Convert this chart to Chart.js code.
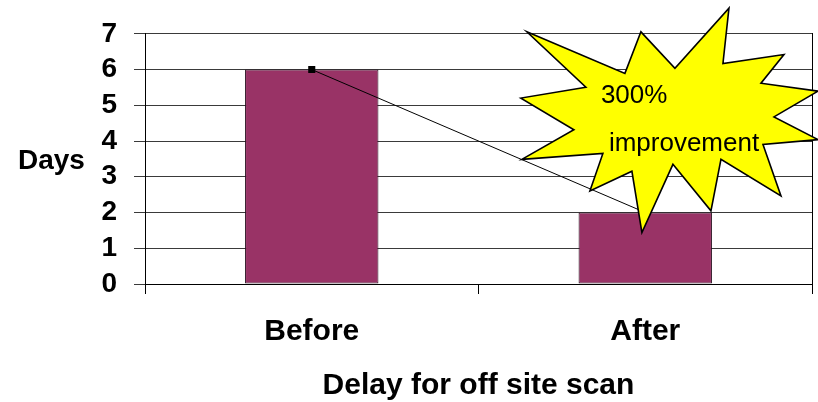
<!DOCTYPE html>
<html>
<head>
<meta charset="utf-8">
<script src="https://cdn.jsdelivr.net/npm/chart.js@4.4.1/dist/chart.umd.min.js"></script>
<style>
  html, body { margin: 0; padding: 0; background: #fff; }
  #wrap { width: 818px; height: 402px; position: relative; }
</style>
</head>
<body>
<div id="wrap"><canvas id="delayChart"></canvas></div>
<script>
// Delay for off site scan, before vs after
const categories = ['Before', 'After'];
const delayDays = [6, 2];
const yTicks = [0, 1, 2, 3, 4, 5, 6, 7];

// Burst callout outline, in chart units (x = category index, y = days)
const burstX = [0.645, 0.939, 0.987, 1.089, 1.251, 1.233, 1.416, 1.347, 1.518, 1.386, 1.518, 1.353,
                1.407, 1.227, 1.197, 1.083, 0.990, 0.960, 0.834, 0.873, 0.630, 0.786, 0.627, 0.822];
const burstY = [7.055, 5.893, 7.055, 6.032, 7.719, 6.170, 6.419, 5.617, 5.395, 4.676, 4.040, 3.901,
                2.462, 3.486, 2.047, 3.348, 1.439, 3.154, 2.601, 3.652, 3.486, 4.316, 5.202, 5.506];
const burstText = [
    { text: '300%', x: 0.867, y: 5.063 },
    { text: 'improvement', x: 0.891, y: 3.735 }
];

const FONT = "'Liberation Sans', Arial, sans-serif";

// Extra drawing: the horizontal "Days" label and the burst callout
const extrasPlugin = {
    id: 'extras',
    afterDraw(chart) {
        const { ctx, chartArea, scales } = chart;
        ctx.save();

        ctx.fillStyle = '#000';
        ctx.font = `bold 28px ${FONT}`;
        ctx.textAlign = 'left';
        ctx.textBaseline = 'alphabetic';
        ctx.fillText('Days', 18, (chartArea.top + chartArea.bottom) / 2 + 10);

        ctx.beginPath();
        burstX.forEach((v, i) => {
            const px = scales.x.getPixelForValue(v);
            const py = scales.y.getPixelForValue(burstY[i]);
            if (i === 0) ctx.moveTo(px, py); else ctx.lineTo(px, py);
        });
        ctx.closePath();
        ctx.fillStyle = '#ffff00';
        ctx.fill();
        ctx.lineWidth = 1.6;
        ctx.lineJoin = 'miter';
        ctx.strokeStyle = '#000';
        ctx.stroke();

        ctx.fillStyle = '#000';
        ctx.font = `26px ${FONT}`;
        burstText.forEach(t => {
            ctx.fillText(t.text, scales.x.getPixelForValue(t.x), scales.y.getPixelForValue(t.y));
        });

        ctx.restore();
    }
};

new Chart(document.getElementById('delayChart'), {
    type: 'bar',
    data: {
        labels: categories,
        datasets: [
            {
                type: 'line',
                data: delayDays,
                borderColor: '#000',
                borderWidth: 1,
                pointStyle: 'rect',
                pointRadius: 5,
                pointBackgroundColor: '#000',
                pointBorderColor: '#000',
                pointBorderWidth: 0,
                tension: 0,
                order: 0
            },
            {
                data: delayDays,
                backgroundColor: '#993366',
                borderColor: '#2a1020',
                borderWidth: 1,
                borderSkipped: false,
                categoryPercentage: 1,
                barPercentage: 0.4,
                order: 1
            }
        ]
    },
    options: {
        responsive: true,
        maintainAspectRatio: false,
        animation: false,
        layout: { padding: { top: 31, right: 0, left: 0, bottom: 0 } },
        plugins: {
            legend: { display: false },
            tooltip: { enabled: false }
        },
        scales: {
            x: {
                offset: true,
                grid: {
                    offset: true,
                    drawOnChartArea: false,
                    drawTicks: true,
                    tickLength: 10,
                    color: '#000'
                },
                border: { display: true, color: '#000', width: 1 },
                ticks: {
                    color: '#000',
                    padding: 20,
                    font: { family: FONT, size: 30, weight: 'bold' }
                },
                title: {
                    display: true,
                    text: 'Delay for off site scan',
                    color: '#000',
                    font: { family: FONT, size: 30, weight: 'bold' },
                    padding: { top: 0, bottom: -2 }
                },
                afterFit(scale) { scale.height = 118; }
            },
            y: {
                min: 0,
                max: 7,
                afterBuildTicks(scale) { scale.ticks = yTicks.map(v => ({ value: v })); },
                grid: {
                    color: '#3a3a3a',
                    lineWidth: 1,
                    drawTicks: true,
                    tickLength: 11
                },
                border: { display: true, color: '#000', width: 1 },
                ticks: {
                    autoSkip: false,
                    color: '#000',
                    padding: 17,
                    font: { family: FONT, size: 28, weight: 'bold' }
                },
                afterFit(scale) { scale.width = 145; }
            },
            // right-hand frame edge of the plot area
            yRight: {
                position: 'right',
                min: 0,
                max: 7,
                grid: { drawOnChartArea: false, drawTicks: false },
                border: { display: true, color: '#000', width: 1 },
                ticks: { display: false },
                afterFit(scale) { scale.width = 6; }
            }
        }
    },
    plugins: [extrasPlugin]
});
</script>
</body>
</html>
